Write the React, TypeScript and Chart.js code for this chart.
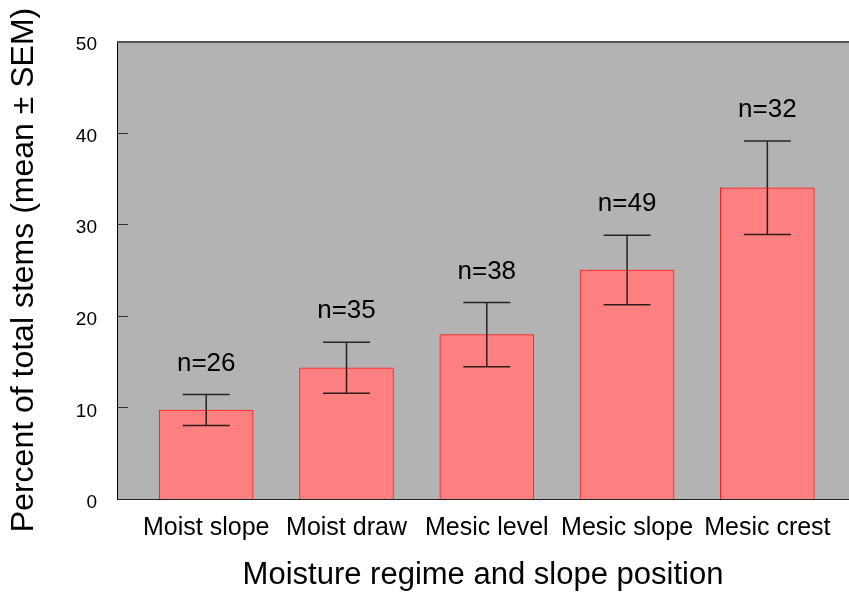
import { useEffect, useRef } from "react";
import { Chart, registerables } from "chart.js";

Chart.register(...registerables);

const categories = ["Moist slope", "Moist draw", "Mesic level", "Mesic slope", "Mesic crest"];
const means = [9.72, 14.33, 17.95, 25.0, 33.98];
const sems = [1.7, 2.78, 3.5, 3.8, 5.1];
const sampleSizes = [26, 35, 38, 49, 32];
const yTicks = [0, 10, 20, 30, 40, 50];

const FONT = "'Liberation Sans', Arial, Helvetica, sans-serif";

const panelPlugin = {
  id: "panel",
  beforeDraw(chart: any) {
    const { ctx, chartArea: a } = chart;
    ctx.save();
    ctx.fillStyle = "#b3b3b3";
    ctx.fillRect(a.left, a.top, a.right - a.left, a.bottom - a.top);
    ctx.restore();
  },
  afterDatasetsDraw(chart: any) {
    const { ctx, chartArea: a } = chart;
    const xs = chart.scales.x;
    const ys = chart.scales.y;
    const bars = chart.getDatasetMeta(0).data;
    ctx.save();

    // error bars (mean ± SEM) and sample size labels
    means.forEach((m, i) => {
      const x = xs.getPixelForValue(i + 1);
      const hi = ys.getPixelForValue(m + sems[i]);
      const lo = ys.getPixelForValue(m - sems[i]);
      const half = bars[i].width / 4;
      ctx.strokeStyle = "rgba(0,0,0,0.8)";
      ctx.lineWidth = 1.5;
      ctx.beginPath();
      ctx.moveTo(x, hi);
      ctx.lineTo(x, lo);
      ctx.moveTo(x - half, hi);
      ctx.lineTo(x + half, hi);
      ctx.moveTo(x - half, lo);
      ctx.lineTo(x + half, lo);
      ctx.stroke();

      ctx.fillStyle = "#000";
      ctx.font = `26px ${FONT}`;
      ctx.textAlign = "center";
      ctx.textBaseline = "alphabetic";
      ctx.fillText(`n=${sampleSizes[i]}`, x, ys.getPixelForValue(m + sems[i] + 2.6));
    });

    // inward tick marks on the value axis
    ctx.strokeStyle = "#333";
    ctx.lineWidth = 1;
    yTicks.forEach((t) => {
      const y = Math.round(ys.getPixelForValue(t)) + 0.5;
      ctx.beginPath();
      ctx.moveTo(a.left, y);
      ctx.lineTo(a.left + 11, y);
      ctx.stroke();
    });

    // frame: left, bottom, top
    ctx.strokeStyle = "#000";
    ctx.lineWidth = 1;
    ctx.beginPath();
    ctx.moveTo(a.left + 0.5, a.top);
    ctx.lineTo(a.left + 0.5, a.bottom);
    ctx.stroke();
    ctx.strokeStyle = "#222";
    ctx.beginPath();
    ctx.moveTo(a.left, a.bottom + 0.5);
    ctx.lineTo(a.right, a.bottom + 0.5);
    ctx.stroke();
    ctx.strokeStyle = "#555";
    ctx.lineWidth = 2;
    ctx.beginPath();
    ctx.moveTo(a.left, a.top + 1);
    ctx.lineTo(a.right, a.top + 1);
    ctx.stroke();
    ctx.restore();
  },
};

export default function App() {
  const canvasRef = useRef<HTMLCanvasElement | null>(null);

  useEffect(() => {
    document.body.style.margin = "0";
    const canvas = canvasRef.current;
    if (!canvas) return;
    const chart = new Chart(canvas, {
      type: "bar",
      data: {
        datasets: [
          {
            data: means.map((m, i) => ({ x: i + 1, y: m })),
            backgroundColor: "#ff8080",
            borderColor: "#ff1a1a",
            borderWidth: 1,
            barThickness: 94,
          },
        ],
      },
      options: {
        animation: false,
        responsive: true,
        maintainAspectRatio: false,
        layout: { padding: { top: 41, right: 0, bottom: 0, left: 0 } },
        plugins: { legend: { display: false }, tooltip: { enabled: false } },
        scales: {
          x: {
            type: "linear",
            offset: false,
            min: 0.364,
            max: 5.582,
            grid: { display: false, drawTicks: false },
            border: { display: false },
            afterBuildTicks: (scale: any) => {
              scale.ticks = categories.map((_, i) => ({ value: i + 1 }));
            },
            afterFit: (scale: any) => {
              scale.height = 101;
            },
            ticks: {
              autoSkip: false,
              maxRotation: 0,
              padding: 14,
              color: "#000",
              font: { family: FONT, size: 25 },
              callback: (v: any) => categories[Number(v) - 1] ?? "",
            },
            title: {
              display: true,
              text: "Moisture regime and slope position",
              color: "#000",
              font: { family: FONT, size: 31 },
              padding: { top: 4, bottom: 6 },
            },
          },
          y: {
            min: 0,
            max: 50,
            grid: { display: false, drawTicks: false },
            border: { display: false },
            afterBuildTicks: (scale: any) => {
              scale.ticks = yTicks.map((v) => ({ value: v }));
            },
            afterFit: (scale: any) => {
              scale.width = 117;
            },
            ticks: {
              padding: 20,
              labelOffset: 4,
              color: "#000",
              font: { family: FONT, size: 19 },
            },
            title: {
              display: true,
              text: "Percent of total stems (mean ± SEM)",
              color: "#000",
              font: { family: FONT, size: 32 },
              padding: { top: 5, bottom: 4 },
            },
          },
        },
      },
      plugins: [panelPlugin],
    });
    return () => chart.destroy();
  }, []);

  return (
    <div style={{ width: 849, height: 600, position: "relative" }}>
      <canvas ref={canvasRef} />
    </div>
  );
}
